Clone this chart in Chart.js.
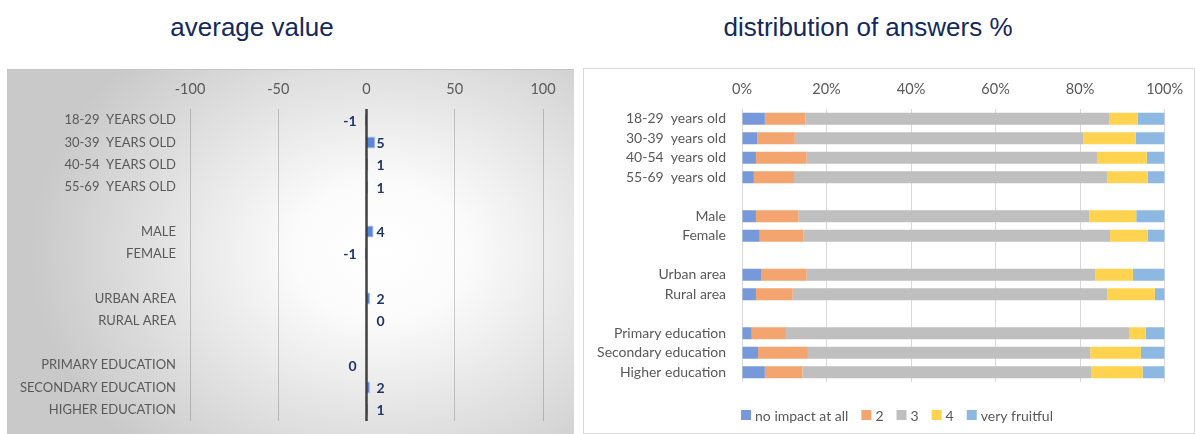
<!DOCTYPE html>
<html>
<head>
<meta charset="utf-8">
<script src="https://cdn.jsdelivr.net/npm/chart.js@4/dist/chart.umd.min.js"></script>
<style>
  body { margin: 0; width: 1195px; height: 434px; background: #fff; position: relative; overflow: hidden; }
  .title { position: absolute; top: 12px; font-family: "Liberation Sans", Arial, sans-serif; font-size: 26px; line-height: 30px; color: #13285e; text-align: center; }
  #title-avg { left: 0; width: 504px; }
  #title-dist { left: 583px; width: 570px; }
  #box-avg { position: absolute; left: 7px; top: 69px; width: 567px; height: 364px; border-top: 1px solid #c4c4c4;
    background: radial-gradient(ellipse 62% 75% at 66% 50%, #ffffff 0%, #fbfbfb 25%, #e4e4e4 60%, #c9c9c9 100%); }
  #box-dist { position: absolute; left: 583px; top: 68px; width: 610px; height: 364px; border: 1px solid #d9d9d9; background: #fff; }
  canvas { display: block; }
</style>
</head>
<body>
<div class="title" id="title-avg">average value</div>
<div class="title" id="title-dist">distribution of answers %</div>
<div id="box-avg"><canvas id="avg-chart" width="567" height="364"></canvas></div>
<div id="box-dist"><canvas id="dist-chart" width="610" height="364"></canvas></div>

<script>
// --- data (blank strings are the gaps between groups) ---
const categories = [
  '18-29  years old', '30-39  years old', '40-54  years old', '55-69  years old', '',
  'Male', 'Female', '',
  'Urban area', 'Rural area', '',
  'Primary education', 'Secondary education', 'Higher education'
];
const avgValues = [-1, 5, 1, 1, null, 4, -1, null, 2, 0.3, null, -0.3, 2, 1];
const avgTicks = [-100, -50, 0, 50, 100];

const answerNames = ['no impact at all', '2', '3', '4', 'very fruitful'];
const noImpact    = [5.4, 3.6, 3.3, 2.8, null, 3.3, 4.2, null, 4.5, 3.3, null, 2.3, 3.8, 5.4];
const answer2     = [9.6, 8.9, 12.0, 9.5, null, 10.1, 10.4, null, 10.8, 8.7, null, 8.1, 11.8, 8.9];
const answer3     = [71.9, 68.3, 68.7, 74.1, null, 68.8, 72.5, null, 68.3, 74.4, null, 81.2, 66.8, 68.3];
const answer4     = [6.8, 12.4, 11.8, 9.6, null, 11.1, 8.9, null, 8.9, 11.3, null, 3.9, 12.0, 12.2];
const veryFruitful = [6.3, 6.8, 4.2, 4.0, null, 6.7, 4.0, null, 7.5, 2.3, null, 4.5, 5.6, 5.2];
const pctTicks = [0, 20, 40, 60, 80, 100];

const answerColors = ['#7799d9', '#f3a46f', '#bfbfbf', '#ffd34f', '#8cb8e1'];
const GRAY_TEXT = '#595959';
const FONT = 'Lato, "Noto Sans", sans-serif';

// keep Chart.js from adding label overflow padding around the plot
const noPad = s => { s.paddingTop = 0; s.paddingBottom = 0; };

// value labels + the dark zero axis on the average chart
const avgLabels = {
  id: 'avgLabels',
  afterDatasetsDraw(chart) {
    const { ctx, chartArea, scales: { x } } = chart;
    const x0 = x.getPixelForValue(0);
    ctx.save();
    ctx.strokeStyle = '#404040';
    ctx.lineWidth = 2.5;
    ctx.beginPath();
    ctx.moveTo(x0, chartArea.top);
    ctx.lineTo(x0, chartArea.bottom);
    ctx.stroke();

    ctx.font = 'bold 14px ' + FONT;
    ctx.fillStyle = '#1f3468';
    ctx.textBaseline = 'middle';
    chart.getDatasetMeta(0).data.forEach((bar, i) => {
      const v = avgValues[i];
      if (v === null) return;
      const neg = v < 0;
      ctx.textAlign = neg ? 'right' : 'left';
      ctx.fillText(String(Math.round(v)), x0 + (neg ? -10 : 10), bar.y + 1);
    });
    ctx.restore();
  }
};

// Excel-like legend row under the stacked chart
const answerLegend = {
  id: 'answerLegend',
  afterDraw(chart) {
    const { ctx } = chart;
    const box = 10, gapText = 4, gapItem = 13;
    ctx.save();
    ctx.font = '14px ' + FONT;
    ctx.textBaseline = 'middle';
    ctx.textAlign = 'left';
    const items = chart.data.datasets.map(ds => ({
      text: ds.label, color: ds.backgroundColor, w: box + gapText + ctx.measureText(ds.label).width
    }));
    const total = items.reduce((s, it) => s + it.w, 0) + gapItem * (items.length - 1);
    let x = chart.width / 2 + 8 - total / 2;
    const y = 346;
    items.forEach(it => {
      ctx.fillStyle = it.color;
      ctx.fillRect(x, y - box / 2, box, box);
      ctx.fillStyle = GRAY_TEXT;
      ctx.fillText(it.text, x + box + gapText, y + 1);
      x += it.w + gapItem;
    });
    ctx.restore();
  }
};

new Chart(document.getElementById('avg-chart'), {
  type: 'bar',
  data: {
    labels: categories.map(c => c.toUpperCase()),
    datasets: [{
      data: avgValues,
      backgroundColor: '#5a85d5',
      borderColor: '#a9c0ec',
      borderWidth: 1,
      barPercentage: 0.54,
      categoryPercentage: 1
    }]
  },
  options: {
    indexAxis: 'y',
    responsive: false,
    animation: false,
    layout: { padding: { left: 0, top: 0, right: 31, bottom: 13 } },
    plugins: { legend: { display: false }, tooltip: { enabled: false } },
    scales: {
      x: {
        position: 'top',
        min: -100, max: 100,
        afterBuildTicks: s => { s.ticks = avgTicks.map(v => ({ value: v })); },
        afterFit: s => { s.height = 39; noPad(s); },
        border: { display: false },
        grid: {
          drawTicks: false,
          color: c => (c.tick && c.tick.value === 0) ? 'rgba(0,0,0,0)' : 'rgba(0,0,0,0.18)'
        },
        ticks: { color: GRAY_TEXT, padding: 11, font: { family: FONT, size: 14.5 } }
      },
      y: {
        afterFit: s => { s.width = 183; noPad(s); },
        border: { display: false },
        grid: { display: false, drawTicks: false },
        ticks: { color: GRAY_TEXT, padding: 14, autoSkip: false, font: { family: FONT, size: 13 } }
      }
    }
  },
  plugins: [avgLabels]
});

const answerSeries = [noImpact, answer2, answer3, answer4, veryFruitful];

new Chart(document.getElementById('dist-chart'), {
  type: 'bar',
  data: {
    labels: categories,
    datasets: answerSeries.map((vals, i) => ({
      label: answerNames[i],
      data: vals,
      backgroundColor: answerColors[i],
      borderWidth: 0,
      barPercentage: 0.61,
      categoryPercentage: 1
    }))
  },
  options: {
    indexAxis: 'y',
    responsive: false,
    animation: false,
    layout: { padding: { left: 0, top: 0, right: 26, bottom: 51 } },
    plugins: { legend: { display: false }, tooltip: { enabled: false } },
    scales: {
      x: {
        position: 'top',
        stacked: true,
        min: 0, max: 100,
        afterBuildTicks: s => { s.ticks = pctTicks.map(v => ({ value: v })); },
        afterFit: s => { s.height = 40; },
        border: { display: false },
        grid: { drawTicks: false, color: '#d9d9d9' },
        ticks: { color: GRAY_TEXT, padding: 11, font: { family: FONT, size: 14.5 }, callback: v => v + '%' }
      },
      y: {
        stacked: true,
        afterFit: s => { s.width = 158; },
        border: { display: false },
        grid: { display: false, drawTicks: false },
        ticks: { color: GRAY_TEXT, padding: 16, autoSkip: false, font: { family: FONT, size: 14 } }
      }
    }
  },
  plugins: [answerLegend]
});
</script>
</body>
</html>
